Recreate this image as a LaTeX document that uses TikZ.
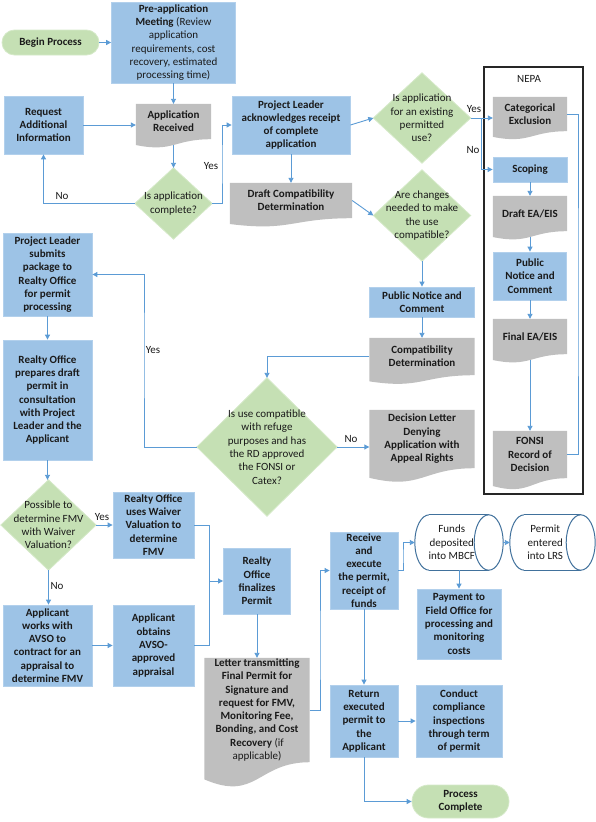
\documentclass[tikz,border=0pt]{standalone}
\usepackage{fontspec}
\setmainfont{Carlito}
\usetikzlibrary{arrows.meta,calc}
\definecolor{bfill}{HTML}{9DC3E6}
\definecolor{bdraw}{HTML}{B2D0EC}
\definecolor{gfill}{HTML}{C5E0B4}
\definecolor{gdraw}{HTML}{D5E9C8}
\definecolor{dfill}{HTML}{BFBFBF}
\definecolor{arr}{HTML}{5B9BD5}
\definecolor{cylc}{HTML}{41719C}
\definecolor{txt}{HTML}{1A1A1A}
\pgfdeclarelayer{bg}
\pgfsetlayers{bg,main}
\tikzset{
 base/.style={font=\fontsize{11}{13.3}\selectfont, text=txt, align=center, inner sep=0pt},
 box/.style 2 args={base, font=\fontsize{11}{13.3}\selectfont\bfseries, rectangle, fill=bfill, draw=bdraw, line width=0.8pt, minimum width=#1pt, minimum height=#2pt},
 term/.style n args={3}{base, font=\fontsize{11}{13.3}\selectfont\bfseries, rectangle, rounded corners=#3, fill=gfill, draw=gdraw, line width=0.8pt, minimum width=#1pt, minimum height=#2pt},
 dia/.style 2 args={base, minimum width=#1pt, minimum height=#2pt},
 doc/.style 2 args={base, font=\fontsize{11}{13.3}\selectfont\bfseries, minimum width=#1pt, minimum height=#2pt},
 cylnode/.style 2 args={base, minimum width=#1pt, minimum height=#2pt},
 lbl/.style={base},
 frame/.style={draw=black!85, line width=1.3pt},
 line/.style={draw=arr, line width=0.9pt},
 arrow/.style={line, -{Triangle[length=5pt,width=5pt]}},
 cylst/.style={fill=white, draw=cylc, line width=1pt},
}
\newcommand\docbg[1]{%
  \fill[dfill] let \p1=(#1.north west), \p2=(#1.south east) in
    (\x1,\y1) -- (\x2,\y1) -- (\x2,\y2)
    .. controls ({(\x1+\x2)/2},\y2) and ({(\x1+\x2)/2},{\y2-0.381*(\y1-\y2)}) .. (\x1,{\y2-0.1646*(\y1-\y2)}) -- cycle;
  \path let \p1=(#1.north west), \p2=(#1.south east) in
    ({(\x1+\x2)/2},{\y2-0.163*(\y1-\y2)}) coordinate (#1-b);
}
\newcommand\diabg[1]{%
  \filldraw[fill=gfill, draw=gdraw, line width=0.8pt] (#1.north) -- (#1.east) -- (#1.south) -- (#1.west) -- cycle;
}
\newcommand\cylbg[1]{%
  \path[cylst] let \p1=(#1.north west), \p2=(#1.south east) in
    ({\x1+14.5pt},{(\y1+\y2)/2}) ellipse [x radius=14.5pt, y radius={(\y1-\y2)/2}];
  \fill[white] let \p1=(#1.north west), \p2=(#1.south east) in
    ({\x1+14.5pt},\y1) rectangle (\x2,\y2);
  \draw[cylc, line width=1pt] let \p1=(#1.north west), \p2=(#1.south east) in
    ({\x1+14.5pt},\y1) -- (\x2,\y1) ({\x1+14.5pt},\y2) -- (\x2,\y2);
  \path[cylst] let \p1=(#1.north west), \p2=(#1.south east) in
    (\x2,{(\y1+\y2)/2}) ellipse [x radius=14.5pt, y radius={(\y1-\y2)/2}];
  \path let \p1=(#1.north west), \p2=(#1.south east) in
    ({\x2+14.5pt},{(\y1+\y2)/2}) coordinate (#1-r);
}
\begin{document}
\begin{tikzpicture}[x=1pt,y=-1pt]
\useasboundingbox (0,0) rectangle (596,822);

% top section
\node[term={97}{25}{12.5pt}] (begin) at (50.5,42.5) {Begin Process};
\node[box={124}{81}, font=\fontsize{11}{13.3}\selectfont] (pre) at (173.5,42.5) {\textbf{Pre-application}\\\textbf{Meeting} (Review\\application\\requirements, cost\\recovery, estimated\\processing time)};
\node[box={79}{58}] (req) at (43.5,125) {Request\\Additional\\Information};
\node[doc={75}{35}] (appr) at (173.5,121.5) {Application\\Received};
\node[dia={77}{71}] (d1) at (173.5,203.5) {Is application\\complete?};
\node[box={118}{58}] (pl) at (291,125) {Project Leader\\acknowledges receipt\\of complete\\application};
\node[doc={122}{35}] (draftcd) at (291,200.5) {Draft Compatibility\\Determination};
\node[dia={97}{90}] (d2) at (422,118) {Is application\\for an existing\\permitted\\use?};
\node[dia={97}{91}] (d3) at (422,215.5) {Are changes\\needed to make\\the use\\compatible?};
\node[box={105}{30}] (pn1) at (422,302) {Public Notice and\\Comment};
\node[doc={105}{37}] (compdet) at (422,356.5) {Compatibility\\Determination};
\node[dia={140}{138}] (d4) at (267,447) {Is use compatible\\with refuge\\purposes and has\\the RD approved\\the FONSI or\\Catex?};
\node[doc={105}{58}] (denial) at (422,439) {Decision Letter\\Denying\\Application with\\Appeal Rights};

% NEPA
\node[frame, minimum width=99pt, minimum height=427pt, inner sep=0pt] (nepa) at (533.5,280.5) {};
\node[lbl] (nepat) at (529,79) {NEPA};
\node[doc={74}{34}] (catex) at (530,114) {Categorical\\Exclusion};
\node[box={74}{25}] (scop) at (530,169.5) {Scoping};
\node[doc={74}{35}] (deis) at (530,213.5) {Draft EA/EIS};
\node[box={73}{48}] (pn2) at (530,276) {Public\\Notice and\\Comment};
\node[doc={74}{35}] (feis) at (530,336.5) {Final EA/EIS};
\node[doc={74}{47}] (fonsi) at (530,454.5) {FONSI\\Record of\\Decision};

% left column
\node[box={89}{83}] (submit) at (47.5,274.5) {Project Leader\\submits\\package to\\Realty Office\\for permit\\processing};
\node[box={89}{120}] (prep) at (47.5,400) {Realty Office\\prepares draft\\permit in\\consultation\\with Project\\Leader and the\\Applicant};
\node[dia={95}{90}] (d5) at (48.5,525) {Possible to\\determine FMV\\with Waiver\\Valuation?};
\node[box={81}{66}] (waiver) at (153.5,525) {Realty Office\\uses Waiver\\Valuation to\\determine\\FMV};
\node[box={89}{81}] (works) at (47.5,645.5) {Applicant\\works with\\AVSO to\\contract for an\\appraisal to\\determine FMV};
\node[box={81}{81}] (obtains) at (153.5,645.5) {Applicant\\obtains\\AVSO-\\approved\\appraisal};
\node[box={67}{66}] (final) at (257,581) {Realty\\Office\\finalizes\\Permit};
\node[doc={105}{104}] (letter) at (257,710) {Letter transmitting\\Final Permit for\\Signature and\\request for FMV,\\Monitoring Fee,\\Bonding, and Cost\\Recovery {\mdseries(if}\\{\mdseries applicable)}};

% bottom right
\node[box={68}{77}] (receive) at (364,570.5) {Receive\\and\\execute\\the permit,\\receipt of\\funds};
\node[cylnode={73.5}{55}] (funds) at (451.75,542.5) {Funds\\deposited\\into MBCF};
\node[cylnode={70.5}{55}] (lrs) at (545.25,542.5) {Permit\\entered\\into LRS};
\node[box={84}{70}] (pay) at (459,624) {Payment to\\Field Office for\\processing and\\monitoring\\costs};
\node[box={68}{72}] (ret) at (364,721) {Return\\executed\\permit to\\the\\Applicant};
\node[box={86}{72}] (cond) at (459,721) {Conduct\\compliance\\inspections\\through term\\of permit};
\node[term={97}{33}{16.5pt}] (done) at (460.5,801.5) {Process\\Complete};

\begin{pgfonlayer}{bg}
\diabg{d1}\diabg{d2}\diabg{d3}\diabg{d4}\diabg{d5}
\docbg{appr}\docbg{draftcd}\docbg{compdet}\docbg{denial}
\docbg{catex}\docbg{deis}\docbg{feis}\docbg{fonsi}\docbg{letter}
\cylbg{funds}\cylbg{lrs}
\end{pgfonlayer}

% connectors
\draw[arrow] (begin.east) -- (pre.west);
\draw[arrow] (pre.south) -- (appr.north);
\draw[arrow] (req.east) -- (req.east -| appr.west);
\draw[arrow] (appr-b) -- (d1.north);
\draw[arrow] (d1.west) -| (req.south);
\coordinate (ya) at (222,164);
\draw[arrow] (d1.east) -| (ya) |- (pl.west);
\draw[arrow] (pl.south) -- (draftcd.north);
\draw[arrow] (pl.east) -- (d2.west);
\draw[arrow] (draftcd.east) -- (d3.west);
\draw[arrow] (d2.east) -- (d2.east -| catex.west);
\coordinate (yb) at (481.5,144);
\draw[arrow] (d2.east) -| (yb) |- (scop.west);
\draw[arrow] (scop.south) -- (deis.north);
\draw[arrow] (deis-b) -- (pn2.north);
\draw[arrow] (pn2.south) -- (feis.north);
\draw[arrow] (feis-b) -- (fonsi.north);
\coordinate (nr) at (578,300);
\draw[line] (catex.east) -| (nr) |- (fonsi.east);
\draw[arrow] (d3.south) -- (pn1.north);
\draw[arrow] (pn1.south) -- (compdet.north);
\draw[arrow] (compdet.west) -| (d4.north);
\draw[arrow] (d4.east) -- (d4.east -| denial.west);
\coordinate (yc) at (144,350);
\draw[arrow] (d4.west) -| (yc) |- (submit.east);
\draw[arrow] (submit.south) -- (prep.north);
\draw[arrow] (prep.south) -- (prep.south |- d5.north);
\draw[arrow] (d5.east) -- (waiver.west);
\draw[arrow] (d5.south) -- (d5.south |- works.north);
\draw[arrow] (works.east) -- (obtains.west);
\coordinate (jw) at (209,581);
\draw[line] (waiver.east) -| (jw);
\draw[line] (obtains.east) -| (jw);
\draw[arrow] (jw) -- (final.west);
\draw[arrow] (final.south) -- (letter.north);
\coordinate (jl) at (320,650);
\draw[arrow] (letter.east) -| (jl) |- (receive.west);
\coordinate (jf) at (403,556);
\draw[arrow] (receive.east) -| (jf) |- (funds.west);
\draw[arrow] (funds-r) -- (lrs.west);
\draw[arrow] (pay.north |- funds.south) -- (pay.north);
\draw[arrow] (receive.south) -- (ret.north);
\draw[arrow] (ret.east) -- (cond.west);
\draw[arrow] (ret.south) |- (done.west);

% labels
\node[lbl] (l1) at (62,196) {No};
\node[lbl] (l2) at (211,166) {Yes};
\node[lbl] (l3) at (474,109) {Yes};
\node[lbl] (l4) at (473,150) {No};
\node[lbl] (l5) at (153,350) {Yes};
\node[lbl] (l6) at (351,439) {No};
\node[lbl] (l7) at (102,517) {Yes};
\node[lbl] (l8) at (57,586) {No};
\end{tikzpicture}
\end{document}
